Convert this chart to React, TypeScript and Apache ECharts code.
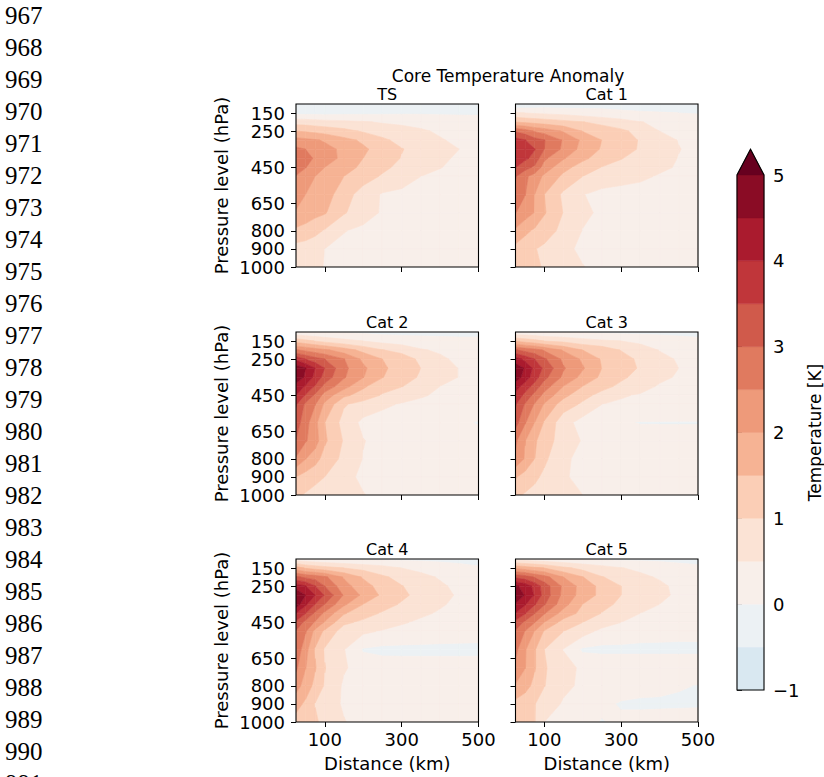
import React, { useEffect, useRef } from "react";
import * as echarts from "echarts";

// ---- grid coordinates of the composites ----
const DISTANCES_KM = [25, 50, 75, 100, 150, 200, 250, 300, 350, 400, 450, 500];
const PRESSURE_HPA = [100, 150, 200, 250, 300, 350, 400, 450, 500, 600, 700, 800, 900, 1000];

// ---- contour levels / colours (RdBu_r, extend max) ----
const LEVELS = [-1, -0.5, 0, 0.5, 1, 1.5, 2, 2.5, 3, 3.5, 4, 4.5, 5];
const BAND_COLORS = [
  "#d9e8f1", "#ecf1f4", "#f8efea", "#fbe3d5", "#fbceb6", "#f6b394",
  "#ee9a7a", "#e07a5f", "#d05a4b", "#c0363a", "#aa1b2e", "#8a0c25", "#67001f",
];

// ---- tick labels ----
const X_TICKS = [100, 300, 500];
const Y_TICKS = [150, 250, 450, 650, 800, 900, 1000];
const CBAR_TICKS = [-1, 0, 1, 2, 3, 4, 5];
const LINE_NUMBERS = [967, 968, 969, 970, 971, 972, 973, 974, 975, 976, 977, 978, 979, 980, 981, 982, 983, 984, 985, 986, 987, 988, 989, 990, 991];
const PANEL_TITLES = ["TS", "Cat 1", "Cat 2", "Cat 3", "Cat 4", "Cat 5"];

// ---- temperature anomaly [K], rows = pressure levels, cols = distances ----
const TS_ANOMALY = [
  [-0.25, -0.25, -0.25, -0.25, -0.25, -0.25, -0.25, -0.25, -0.25, -0.25, -0.25, -0.25],
  [-0.15, -0.15, -0.15, -0.15, -0.12, -0.1, -0.08, -0.06, -0.05, -0.05, -0.05, -0.05],
  [0.8, 0.78, 0.72, 0.68, 0.62, 0.55, 0.45, 0.38, 0.3, 0.22, 0.18, 0.15],
  [1.5, 1.45, 1.38, 1.3, 1.15, 0.95, 0.82, 0.72, 0.58, 0.42, 0.3, 0.22],
  [2.2, 2.12, 2.05, 1.95, 1.65, 1.42, 1.08, 0.88, 0.72, 0.55, 0.38, 0.25],
  [2.6, 2.5, 2.35, 2.15, 1.9, 1.58, 1.3, 1.02, 0.85, 0.7, 0.5, 0.32],
  [2.8, 2.65, 2.45, 2.28, 1.85, 1.5, 1.22, 0.98, 0.8, 0.6, 0.42, 0.3],
  [2.7, 2.52, 2.3, 2.0, 1.72, 1.38, 1.1, 0.88, 0.7, 0.52, 0.36, 0.28],
  [2.48, 2.25, 2.0, 1.85, 1.5, 1.2, 0.95, 0.75, 0.5, 0.38, 0.3, 0.25],
  [2.25, 2.0, 1.85, 1.75, 1.2, 0.8, 0.45, 0.38, 0.32, 0.28, 0.25, 0.22],
  [1.95, 1.8, 1.65, 1.55, 1.05, 0.7, 0.45, 0.35, 0.3, 0.25, 0.22, 0.2],
  [1.4, 1.3, 1.15, 0.95, 0.52, 0.4, 0.32, 0.28, 0.25, 0.22, 0.2, 0.18],
  [0.8, 0.75, 0.65, 0.5, 0.38, 0.3, 0.25, 0.22, 0.2, 0.2, 0.18, 0.18],
  [0.65, 0.62, 0.58, 0.48, 0.35, 0.28, 0.22, 0.2, 0.18, 0.18, 0.18, 0.18],
];

const CAT1_ANOMALY = [
  [-0.45, -0.4, -0.35, -0.3, -0.3, -0.25, -0.2, -0.2, -0.2, -0.15, -0.15, -0.15],
  [0.55, 0.5, 0.45, 0.42, 0.35, 0.25, 0.18, 0.1, 0.05, 0.02, 0.0, -0.02],
  [1.5, 1.42, 1.35, 1.28, 1.15, 1.02, 0.85, 0.7, 0.52, 0.4, 0.3, 0.2],
  [2.95, 2.75, 2.45, 2.3, 1.95, 1.48, 1.3, 1.1, 0.85, 0.5, 0.35, 0.25],
  [3.7, 3.52, 3.2, 3.02, 2.45, 1.9, 1.5, 1.3, 0.95, 0.7, 0.48, 0.3],
  [3.85, 3.7, 3.52, 3.0, 2.4, 1.82, 1.45, 1.2, 0.95, 0.72, 0.52, 0.35],
  [3.75, 3.6, 3.35, 2.6, 2.05, 1.6, 1.3, 1.02, 0.85, 0.7, 0.48, 0.32],
  [3.52, 3.2, 2.9, 2.3, 1.65, 1.3, 0.98, 0.85, 0.72, 0.6, 0.45, 0.3],
  [3.05, 2.6, 2.3, 1.9, 1.4, 1.0, 0.8, 0.7, 0.6, 0.45, 0.35, 0.28],
  [2.75, 2.52, 2.0, 1.5, 0.9, 0.52, 0.35, 0.3, 0.28, 0.25, 0.22, 0.2],
  [2.52, 2.25, 1.98, 1.55, 0.98, 0.62, 0.4, 0.35, 0.3, 0.28, 0.25, 0.22],
  [1.92, 1.62, 1.42, 1.2, 0.88, 0.48, 0.38, 0.32, 0.28, 0.25, 0.22, 0.2],
  [1.35, 1.2, 1.02, 0.92, 0.62, 0.4, 0.32, 0.28, 0.25, 0.22, 0.2, 0.18],
  [1.2, 1.15, 1.1, 0.95, 0.75, 0.52, 0.35, 0.3, 0.25, 0.22, 0.2, 0.18],
];

const CAT2_ANOMALY = [
  [0.1, 0.05, 0.02, 0.0, -0.05, -0.1, -0.15, -0.15, -0.15, -0.15, -0.15, -0.15],
  [1.3, 1.15, 0.98, 0.85, 0.65, 0.5, 0.35, 0.25, 0.2, 0.15, 0.12, 0.12],
  [2.55, 2.4, 2.25, 2.1, 1.75, 1.35, 1.02, 0.85, 0.55, 0.42, 0.3, 0.22],
  [3.9, 3.48, 3.2, 3.0, 2.52, 1.9, 1.5, 1.25, 0.9, 0.6, 0.38, 0.25],
  [4.85, 4.52, 4.0, 3.5, 2.62, 2.1, 1.6, 1.25, 1.0, 0.72, 0.48, 0.3],
  [4.9, 4.4, 3.85, 3.3, 2.55, 2.02, 1.52, 1.18, 0.95, 0.72, 0.48, 0.32],
  [4.3, 3.95, 3.45, 2.85, 2.2, 1.58, 1.2, 1.02, 0.8, 0.5, 0.4, 0.3],
  [4.0, 3.45, 2.9, 2.3, 1.6, 1.3, 0.95, 0.75, 0.55, 0.42, 0.35, 0.28],
  [3.55, 2.9, 2.52, 1.9, 1.05, 0.8, 0.6, 0.45, 0.38, 0.32, 0.28, 0.25],
  [3.25, 2.7, 2.15, 1.5, 0.82, 0.38, 0.28, 0.22, 0.2, 0.15, 0.08, -0.03],
  [2.98, 2.55, 2.25, 1.58, 0.95, 0.52, 0.35, 0.28, 0.22, 0.2, 0.18, 0.15],
  [2.45, 2.02, 1.7, 1.3, 0.88, 0.48, 0.38, 0.3, 0.25, 0.22, 0.2, 0.18],
  [1.5, 1.3, 1.15, 1.0, 0.62, 0.42, 0.32, 0.28, 0.25, 0.22, 0.2, 0.18],
  [1.1, 0.95, 0.82, 0.75, 0.62, 0.52, 0.35, 0.3, 0.25, 0.22, 0.2, 0.18],
];

const CAT3_ANOMALY = [
  [0.1, 0.08, 0.05, 0.02, -0.02, -0.05, -0.1, -0.12, -0.12, -0.12, -0.12, -0.12],
  [1.45, 1.3, 1.18, 1.0, 0.88, 0.7, 0.58, 0.5, 0.38, 0.25, 0.15, 0.08],
  [3.05, 2.85, 2.7, 2.45, 1.95, 1.5, 1.3, 0.98, 0.75, 0.48, 0.35, 0.22],
  [4.25, 3.85, 3.5, 3.08, 2.4, 1.92, 1.45, 1.2, 0.9, 0.65, 0.45, 0.28],
  [4.8, 4.45, 3.85, 3.4, 2.55, 2.05, 1.5, 1.22, 0.95, 0.7, 0.5, 0.32],
  [4.85, 4.25, 3.75, 3.15, 2.4, 1.85, 1.4, 1.08, 0.85, 0.6, 0.45, 0.3],
  [4.2, 3.8, 3.3, 2.75, 2.0, 1.5, 1.15, 0.9, 0.68, 0.45, 0.35, 0.28],
  [3.9, 3.35, 2.85, 2.35, 1.65, 1.15, 0.85, 0.55, 0.45, 0.38, 0.3, 0.25],
  [3.55, 2.95, 2.45, 1.95, 1.25, 0.92, 0.5, 0.42, 0.38, 0.32, 0.28, 0.25],
  [3.2, 2.55, 2.0, 1.45, 0.7, 0.3, 0.2, 0.05, -0.02, -0.02, -0.02, -0.02],
  [2.6, 2.02, 1.6, 1.15, 0.85, 0.45, 0.3, 0.22, 0.2, 0.18, 0.18, 0.18],
  [2.4, 1.95, 1.5, 1.1, 0.6, 0.35, 0.28, 0.24, 0.22, 0.2, 0.2, 0.2],
  [1.55, 1.3, 1.1, 0.9, 0.55, 0.38, 0.3, 0.25, 0.22, 0.2, 0.2, 0.2],
  [1.1, 0.95, 0.85, 0.75, 0.62, 0.5, 0.35, 0.28, 0.24, 0.22, 0.2, 0.2],
];

const CAT4_ANOMALY = [
  [0.2, 0.15, 0.1, 0.05, 0.0, -0.05, -0.08, -0.1, -0.1, -0.1, -0.1, -0.1],
  [1.75, 1.45, 1.3, 1.2, 1.0, 0.85, 0.7, 0.5, 0.35, 0.2, 0.1, 0.03],
  [3.1, 2.9, 2.8, 2.6, 1.95, 1.45, 1.08, 0.85, 0.65, 0.45, 0.32, 0.2],
  [4.3, 4.02, 3.52, 3.0, 2.2, 1.7, 1.3, 1.02, 0.8, 0.58, 0.38, 0.25],
  [4.9, 4.5, 4.0, 3.45, 2.45, 1.9, 1.4, 1.1, 0.85, 0.62, 0.45, 0.3],
  [4.8, 4.1, 3.5, 3.0, 2.1, 1.5, 1.2, 0.95, 0.75, 0.55, 0.4, 0.28],
  [4.02, 3.52, 2.9, 2.4, 1.55, 1.2, 0.95, 0.78, 0.58, 0.45, 0.35, 0.25],
  [3.4, 2.85, 2.45, 1.95, 1.1, 0.9, 0.75, 0.55, 0.42, 0.35, 0.3, 0.25],
  [2.95, 2.55, 1.85, 1.4, 0.75, 0.6, 0.45, 0.35, 0.3, 0.25, 0.22, 0.2],
  [2.85, 2.2, 1.45, 0.95, 0.52, -0.05, -0.12, -0.12, -0.12, -0.12, -0.12, -0.12],
  [2.6, 2.02, 1.55, 1.02, 0.55, 0.3, 0.22, 0.2, 0.2, 0.2, 0.2, 0.2],
  [2.2, 1.8, 1.35, 0.95, 0.42, 0.3, 0.25, 0.22, 0.2, 0.2, 0.2, 0.2],
  [1.7, 1.4, 0.98, 0.7, 0.45, 0.3, 0.25, 0.22, 0.2, 0.2, 0.2, 0.2],
  [1.3, 1.2, 1.08, 0.85, 0.52, 0.35, 0.28, 0.22, 0.2, 0.2, 0.2, 0.2],
];

const CAT5_ANOMALY = [
  [0.3, 0.25, 0.2, 0.15, 0.1, 0.05, -0.05, -0.1, -0.1, -0.1, -0.1, -0.1],
  [1.9, 1.75, 1.62, 1.5, 1.12, 0.85, 0.7, 0.52, 0.4, 0.25, 0.12, 0.06],
  [3.4, 3.25, 2.95, 2.7, 2.0, 1.52, 1.02, 0.85, 0.6, 0.45, 0.3, 0.2],
  [4.6, 4.3, 3.85, 3.25, 2.4, 1.8, 1.35, 1.0, 0.8, 0.6, 0.38, 0.25],
  [4.95, 4.45, 3.95, 3.3, 2.35, 1.8, 1.35, 1.0, 0.8, 0.6, 0.42, 0.28],
  [4.45, 4.05, 3.55, 3.05, 2.2, 1.5, 1.15, 0.9, 0.72, 0.5, 0.38, 0.28],
  [4.0, 3.55, 3.02, 2.55, 1.8, 1.35, 0.98, 0.75, 0.5, 0.42, 0.35, 0.28],
  [3.35, 2.9, 2.52, 2.0, 1.3, 1.0, 0.75, 0.5, 0.4, 0.32, 0.28, 0.25],
  [2.95, 2.48, 1.98, 1.45, 1.0, 0.72, 0.35, 0.3, 0.2, 0.18, 0.15, 0.15],
  [2.65, 2.05, 1.55, 1.0, 0.48, -0.08, -0.12, -0.12, -0.12, -0.12, -0.12, -0.12],
  [2.4, 2.02, 1.55, 1.05, 0.7, 0.4, 0.35, 0.35, 0.35, 0.35, 0.35, 0.35],
  [1.95, 1.7, 1.35, 1.02, 0.6, 0.42, 0.3, 0.25, 0.2, 0.15, 0.05, -0.02],
  [1.35, 1.2, 1.02, 0.75, 0.45, 0.3, 0.12, -0.05, -0.1, -0.1, -0.1, -0.08],
  [1.1, 1.05, 1.02, 0.5, 0.3, 0.15, -0.03, 0.1, 0.2, 0.25, 0.3, 0.3],
];

const PANEL_VALUES = [TS_ANOMALY, CAT1_ANOMALY, CAT2_ANOMALY, CAT3_ANOMALY, CAT4_ANOMALY, CAT5_ANOMALY];

// ---- layout ----
const FONT = "DejaVu Sans";
const COL_LEFT = [296, 515.5];
const ROW_TOP = [104, 332, 559];
const PANEL_W = 182.5;
const PANEL_H = 163;
const CBAR = { left: 737, top: 175, width: 27, height: 515 };
const CBAR_EXT = 0.3;

type Pt = [number, number, number];

function clipPoly(poly: Pt[], level: number, keepAbove: boolean): Pt[] {
  const out: Pt[] = [];
  const n = poly.length;
  for (let i = 0; i < n; i++) {
    const a = poly[i];
    const b = poly[(i + 1) % n];
    const ina = keepAbove ? a[2] >= level : a[2] < level;
    const inb = keepAbove ? b[2] >= level : b[2] < level;
    if (ina) out.push(a);
    if (ina !== inb) {
      const t = (level - a[2]) / (b[2] - a[2]);
      out.push([a[0] + t * (b[0] - a[0]), a[1] + t * (b[1] - a[1]), level]);
    }
  }
  return out;
}

function buildCells(values: number[][]) {
  const cells: { center: number[]; parts: { color: string; pts: Pt[] }[] }[] = [];
  for (let i = 0; i < PRESSURE_HPA.length - 1; i++) {
    for (let j = 0; j < DISTANCES_KM.length - 1; j++) {
      const d0 = DISTANCES_KM[j], d1 = DISTANCES_KM[j + 1];
      const p0 = PRESSURE_HPA[i], p1 = PRESSURE_HPA[i + 1];
      const quad: Pt[] = [
        [d0, p0, values[i][j]],
        [d1, p0, values[i][j + 1]],
        [d1, p1, values[i + 1][j + 1]],
        [d0, p1, values[i + 1][j]],
      ];
      const parts: { color: string; pts: Pt[] }[] = [];
      for (let k = 0; k < BAND_COLORS.length; k++) {
        const lo = LEVELS[k];
        const hi = k + 1 < LEVELS.length ? LEVELS[k + 1] : Infinity;
        let poly = clipPoly(quad, lo, true);
        if (poly.length >= 3 && hi !== Infinity) poly = clipPoly(poly, hi, false);
        if (poly.length >= 3) parts.push({ color: BAND_COLORS[k], pts: poly });
      }
      cells.push({ center: [(d0 + d1) / 2, (p0 + p1) / 2], parts });
    }
  }
  return cells;
}

function fmtMinus(v: number) {
  return v < 0 ? "\u2212" + Math.abs(v) : String(v);
}

export default function App() {
  const ref = useRef<HTMLDivElement>(null);

  useEffect(() => {
    if (!ref.current) return;
    const chart = echarts.init(ref.current, undefined, { renderer: "svg" });

    const grids: any[] = [];
    const xAxes: any[] = [];
    const yAxes: any[] = [];
    const series: any[] = [];

    PANEL_VALUES.forEach((vals, k) => {
      const col = k % 2;
      const row = Math.floor(k / 2);
      grids.push({
        left: COL_LEFT[col], top: ROW_TOP[row], width: PANEL_W, height: PANEL_H,
        show: true, borderColor: "#000", borderWidth: 1.1, backgroundColor: "transparent", z: 10,
      });
      xAxes.push({
        gridIndex: k, type: "value", min: 25, max: 500,
        axisLine: { show: false },
        axisTick: { show: true, length: 5, customValues: X_TICKS, lineStyle: { color: "#000", width: 1 } },
        axisLabel: {
          show: row === 2, customValues: X_TICKS, fontSize: 18, color: "#000", fontFamily: FONT, margin: 8,
          formatter: (v: number) => String(v),
        },
        splitLine: { show: false },
        name: row === 2 ? "Distance (km)" : "",
        nameLocation: "middle", nameGap: 32,
        nameTextStyle: { fontSize: 18, color: "#000", fontFamily: FONT },
      });
      yAxes.push({
        gridIndex: k, type: "value", min: 100, max: 1000, inverse: true,
        axisLine: { show: false },
        axisTick: { show: true, length: 5, customValues: Y_TICKS, lineStyle: { color: "#000", width: 1 } },
        axisLabel: {
          show: col === 0, customValues: Y_TICKS, fontSize: 18, lineHeight: 16, color: "#000", fontFamily: FONT, margin: 11,
          formatter: (v: number) => String(v),
        },
        splitLine: { show: false },
        name: col === 0 ? "Pressure level (hPa)" : "",
        nameLocation: "middle", nameGap: 66, nameRotate: 90,
        nameTextStyle: { fontSize: 18, color: "#000", fontFamily: FONT },
      });
      const cells = buildCells(vals);
      series.push({
        type: "custom", coordinateSystem: "cartesian2d", xAxisIndex: k, yAxisIndex: k,
        silent: true, clip: true,
        data: cells.map((c) => c.center),
        encode: { x: 0, y: 1 },
        renderItem: (params: any, api: any) => ({
          type: "group",
          children: cells[params.dataIndex].parts.map((part) => ({
            type: "polygon",
            shape: { points: part.pts.map((pt) => api.coord([pt[0], pt[1]])) },
            style: { fill: part.color, stroke: part.color, lineWidth: 0.6 },
          })),
        }),
      });
    });

    // colorbar
    grids.push({ left: CBAR.left, top: CBAR.top, width: CBAR.width, height: CBAR.height, show: false });
    xAxes.push({ gridIndex: 6, type: "value", min: 0, max: 1, show: false });
    yAxes.push({
      gridIndex: 6, type: "value", min: -1, max: 5, interval: 1, position: "right",
      axisLine: { show: false },
      axisTick: { show: true, length: 5, lineStyle: { color: "#000", width: 1 } },
      axisLabel: { fontSize: 18, color: "#000", fontFamily: FONT, margin: 9, formatter: (v: number) => fmtMinus(v), customValues: CBAR_TICKS },
      splitLine: { show: false },
      name: "Temperature [K]", nameLocation: "middle", nameGap: 42, nameRotate: 90,
      nameTextStyle: { fontSize: 17, color: "#000", fontFamily: FONT },
    });
    const cbarItems = BAND_COLORS.map(() => [0.5, 2]).concat([[0.5, 2]]);
    series.push({
      type: "custom", coordinateSystem: "cartesian2d", xAxisIndex: 6, yAxisIndex: 6,
      silent: true, clip: false, z: 3,
      data: cbarItems,
      renderItem: (params: any, api: any) => {
        const k = params.dataIndex;
        const top = LEVELS[LEVELS.length - 1];
        if (k < BAND_COLORS.length - 1) {
          const a = api.coord([0, LEVELS[k]]);
          const b = api.coord([1, LEVELS[k + 1]]);
          return {
            type: "rect",
            shape: { x: a[0], y: b[1], width: b[0] - a[0], height: a[1] - b[1] },
            style: { fill: BAND_COLORS[k], stroke: BAND_COLORS[k], lineWidth: 0.5 },
          };
        }
        if (k === BAND_COLORS.length - 1) {
          return {
            type: "polygon",
            shape: { points: [api.coord([0, top]), api.coord([1, top]), api.coord([0.5, top + CBAR_EXT])] },
            style: { fill: BAND_COLORS[k], stroke: BAND_COLORS[k], lineWidth: 0.5 },
          };
        }
        return {
          type: "polygon",
          shape: {
            points: [
              api.coord([0, LEVELS[0]]), api.coord([0, top]), api.coord([0.5, top + CBAR_EXT]),
              api.coord([1, top]), api.coord([1, LEVELS[0]]),
            ],
          },
          style: { fill: "none", stroke: "#000", lineWidth: 1.1 },
          z2: 10,
        };
      },
    });

    const graphic: any[] = [];
    LINE_NUMBERS.forEach((n, i) => {
      graphic.push({
        type: "text", x: 5, y: 15 + 32 * i, silent: true,
        style: { text: String(n), fontFamily: "Liberation Serif", fontSize: 25, fill: "#000", align: "left", verticalAlign: "middle" },
      });
    });
    graphic.push({
      type: "text", x: 508, y: 76, silent: true,
      style: { text: "Core Temperature Anomaly", fontFamily: FONT, fontSize: 17, fill: "#000", align: "center", verticalAlign: "middle" },
    });
    PANEL_TITLES.forEach((t, k) => {
      const col = k % 2;
      const row = Math.floor(k / 2);
      graphic.push({
        type: "text", x: COL_LEFT[col] + PANEL_W / 2, y: ROW_TOP[row] - 10, silent: true,
        style: { text: t, fontFamily: FONT, fontSize: 16, fill: "#000", align: "center", verticalAlign: "middle" },
      });
    });

    chart.setOption({
      animation: false,
      backgroundColor: "#fff",
      textStyle: { fontFamily: FONT },
      grid: grids,
      xAxis: xAxes,
      yAxis: yAxes,
      series,
      graphic,
    });

    return () => chart.dispose();
  }, []);

  return <div ref={ref} style={{ position: "absolute", left: 0, top: 0, width: 824, height: 777 }} />;
}
